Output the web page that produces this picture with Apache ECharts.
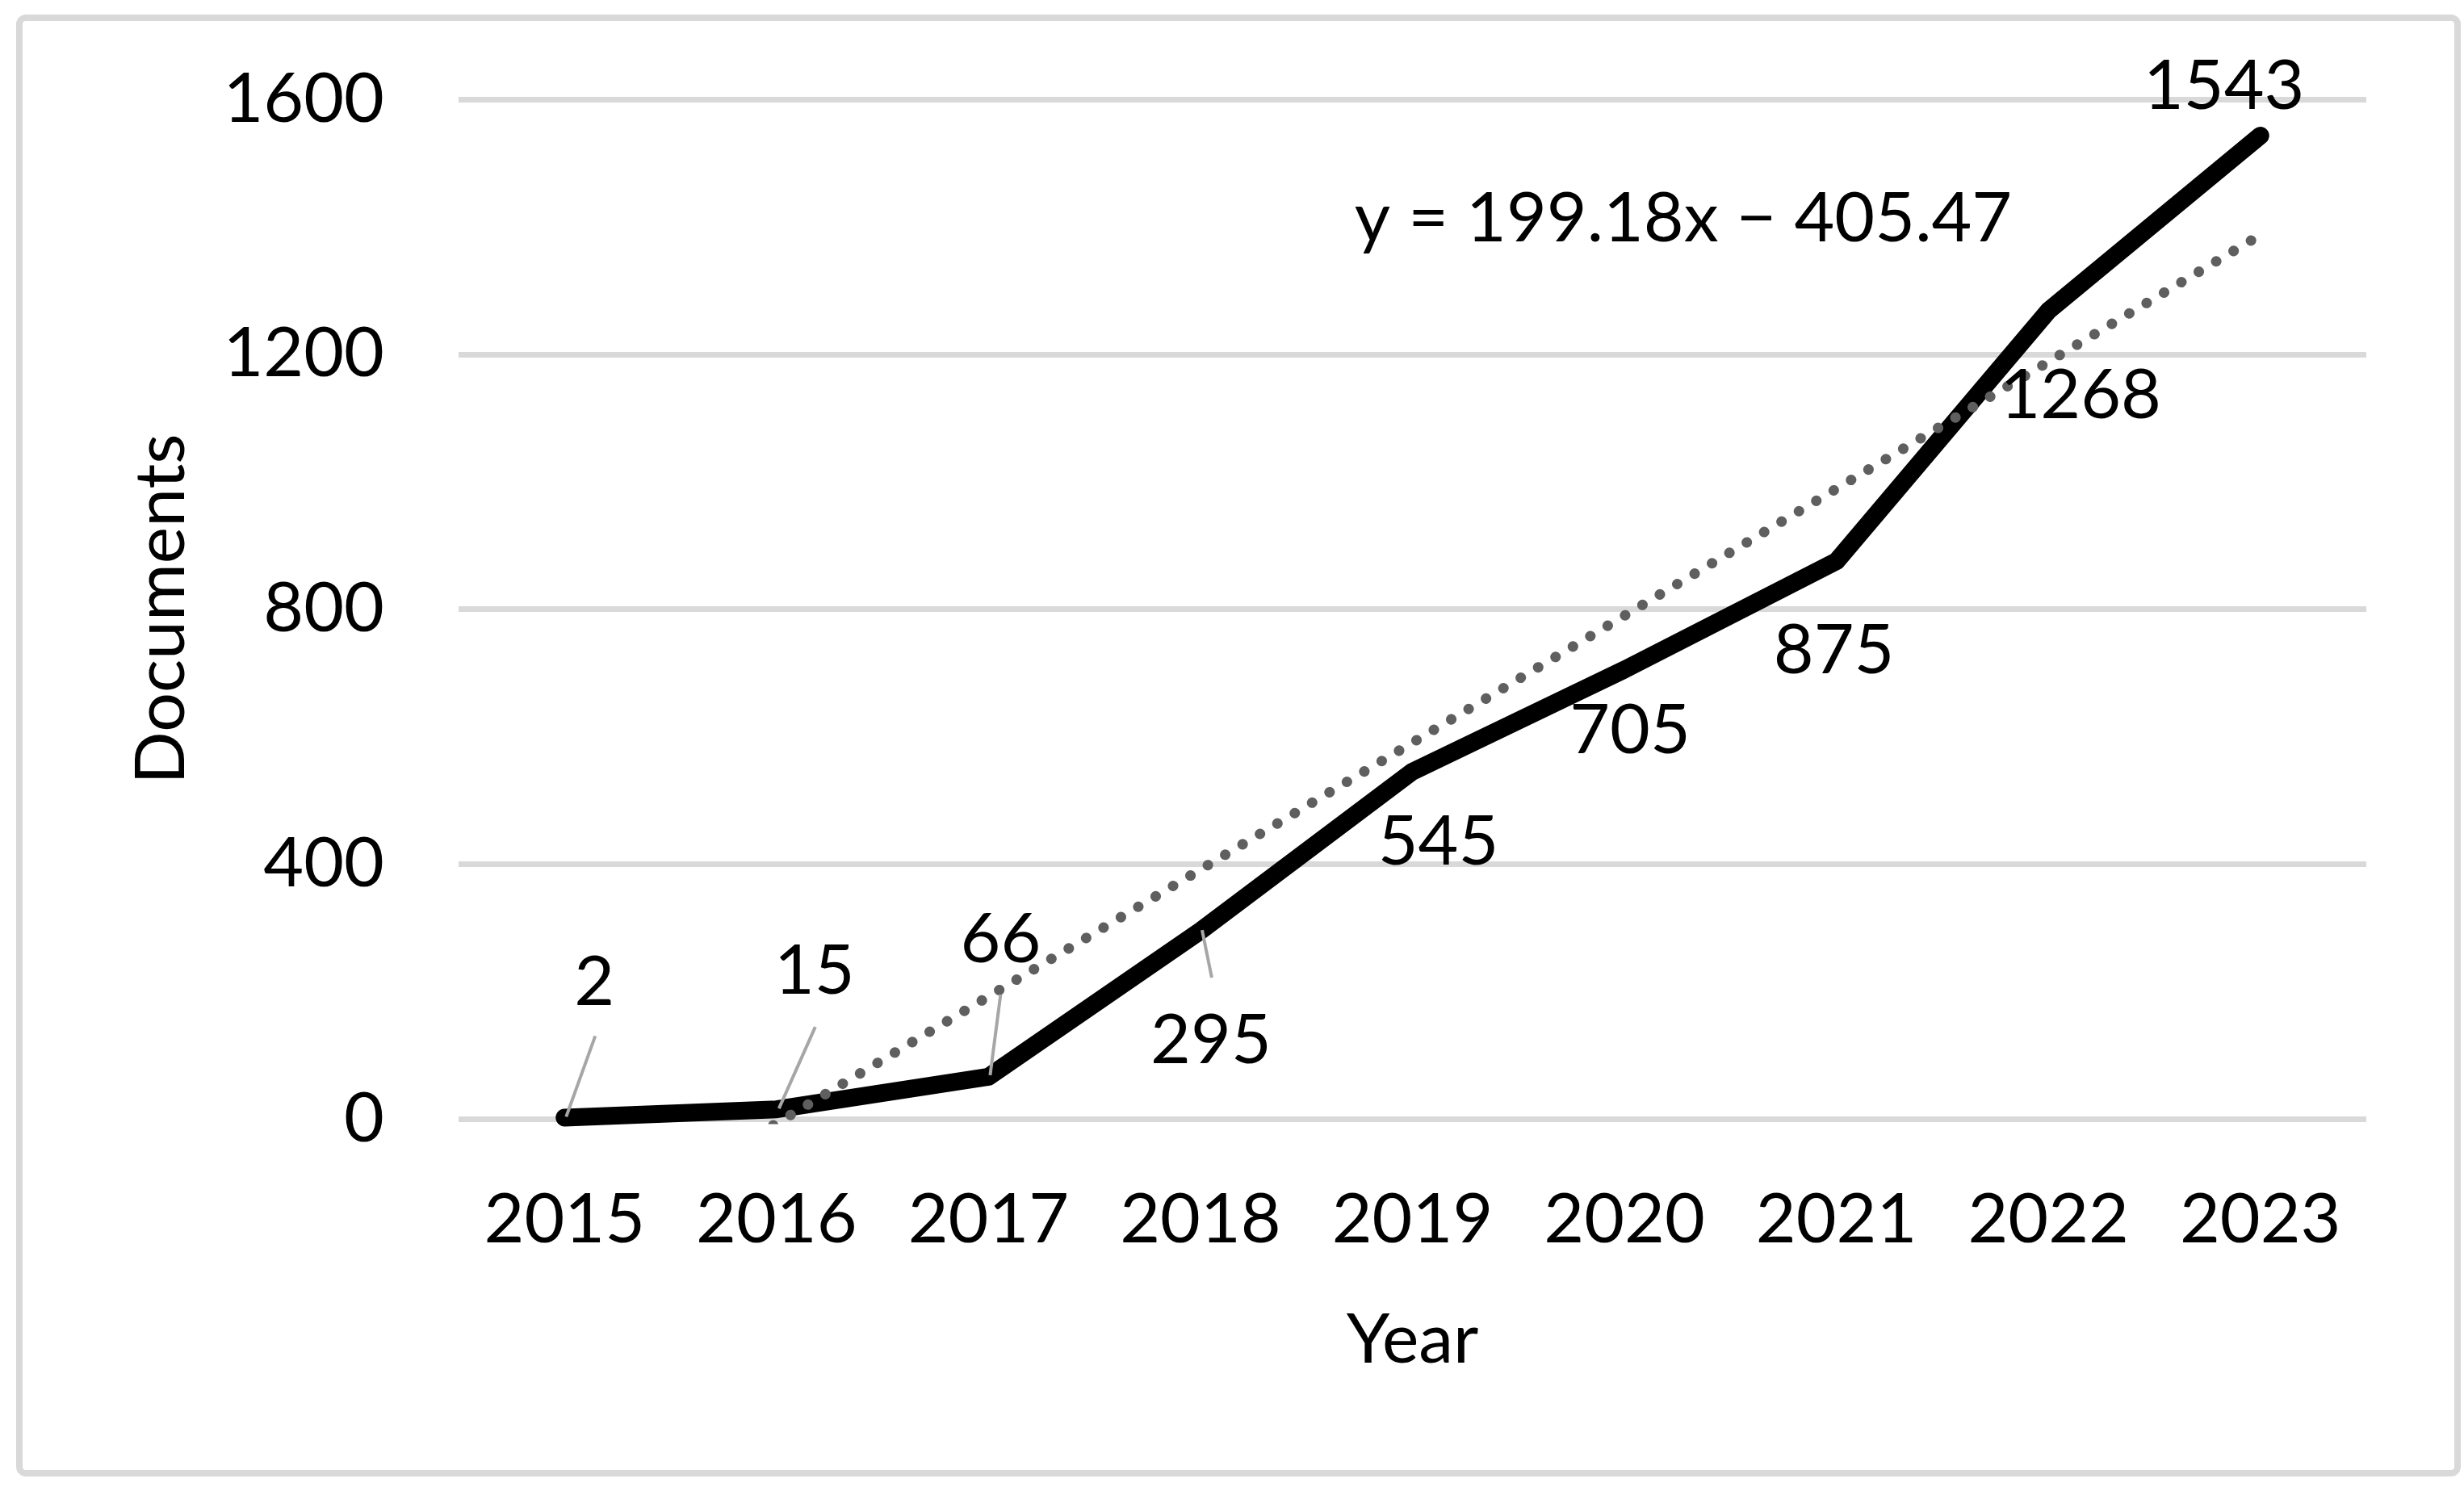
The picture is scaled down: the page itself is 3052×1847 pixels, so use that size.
<!DOCTYPE html>
<html><head><meta charset="utf-8">
<script src="https://cdn.jsdelivr.net/npm/echarts@6/dist/echarts.min.js"></script>
<style>html,body{margin:0;padding:0;background:#fff}#c{width:3052px;height:1847px}</style>
</head><body><div id="c"></div>
<script>
// ---- data ----
const years = ['2015','2016','2017','2018','2019','2020','2021','2022','2023'];
const documents = [2, 15, 66, 295, 545, 705, 875, 1268, 1543];
const yTicks = [0, 400, 800, 1200, 1600];
// linear trendline as printed on the chart: y = 199.18x - 405.47 (x = 1..9)
const trendLabel = 'y = 199.18x \u2212 405.47';
const trendValues = [-206.29, -7.11, 192.07, 391.25, 590.43, 789.61, 988.79, 1187.97, 1387.15];

// ---- label layout (pixel offsets from each point; style only) ----
const labelOffsets = [[37,-167],[47,-171],[15,-170],[13,136],[32,87],[7,76],[-3,111],[40,105],[-45,-61]];
const leaderLines = [[2,-1,38,-101],[3,-1,48,-102],[2,-2,15,-102],[2,-1,14,58],null,null,null,null,null];

const FONT = 'Lato, "Open Sans", sans-serif';
const FS = 86;

const chart = echarts.init(document.getElementById('c'), null, {renderer:'canvas'});
chart.setOption({
  backgroundColor: '#ffffff',
  animation: false,
  grid: {left: 568, right: 121, top: 123, bottom: 461, containLabel: false},
  xAxis: {
    type: 'category', data: years, boundaryGap: true,
    axisLine: {show: false}, axisTick: {show: false},
    axisLabel: {color: '#000', fontSize: FS, fontFamily: FONT, margin: 82},
    name: 'Year', nameLocation: 'middle', nameGap: 231,
    nameTextStyle: {color: '#000', fontSize: FS, fontFamily: FONT}
  },
  yAxis: {
    type: 'value', min: yTicks[0], max: yTicks[yTicks.length-1], interval: 400,
    axisLine: {show: false}, axisTick: {show: false},
    axisLabel: {color: '#000', fontSize: FS, fontFamily: FONT, margin: 92,
                formatter: function (v) { return String(v); }},
    splitLine: {show: true, lineStyle: {color: '#d9d9d9', width: 7}},
    name: 'Documents', nameLocation: 'middle', nameGap: 325,
    nameTextStyle: {color: '#000', fontSize: FS, fontFamily: FONT}
  },
  graphic: [
    {type: 'rect', left: 20, top: 18, z: -10, silent: true,
     shape: {x: 0, y: 0, width: 3020, height: 1803, r: 8},
     style: {fill: 'none', stroke: '#d9d9d9', lineWidth: 8}},
    {type: 'text', x: 2085, y: 271, z: 100,
     style: {text: trendLabel, fill: '#000', fontSize: FS, fontFamily: FONT, align: 'center', verticalAlign: 'middle'}}
  ],
  series: [
    {
      name: 'Documents', type: 'line', data: documents, z: 2,
      showSymbol: false, symbol: 'none',
      lineStyle: {color: '#000', width: 22, cap: 'round', join: 'round'}
    },
    {
      name: 'Trend', type: 'line', data: trendValues, z: 3, clip: true,
      showSymbol: false, symbol: 'none',
      lineStyle: {color: '#5f5f5f', width: 13, type: [0.1, 25], cap: 'round'}
    },
    {
      name: 'Labels', type: 'custom', z: 5, clip: false,
      data: documents.map((v, i) => [i, v]),
      encode: {x: 0, y: 1},
      renderItem: function (params, api) {
        const i = params.dataIndex;
        const p = api.coord([api.value(0), api.value(1)]);
        const off = labelOffsets[i];
        const ch = [];
        const ll = leaderLines[i];
        if (ll) ch.push({type: 'line', shape: {x1: p[0]+ll[0], y1: p[1]+ll[1], x2: p[0]+ll[2], y2: p[1]+ll[3]},
                         style: {stroke: '#a6a6a6', lineWidth: 4}});
        ch.push({type: 'text', style: {text: String(documents[i]), x: p[0]+off[0], y: p[1]+off[1],
                 align: 'center', verticalAlign: 'middle', fontSize: FS, fontFamily: FONT, fill: '#000'}});
        return {type: 'group', children: ch};
      }
    }
  ]
});
</script>
</body></html>
